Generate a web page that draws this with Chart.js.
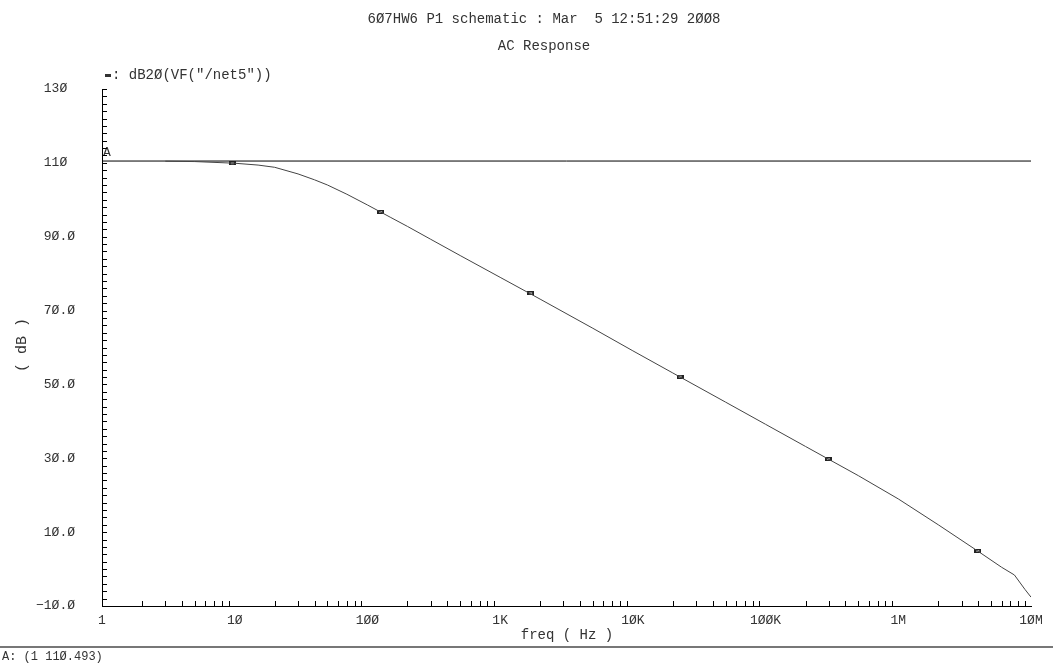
<!DOCTYPE html>
<html>
<head>
<meta charset="utf-8">
<title>AC Response</title>
<script src="https://cdn.jsdelivr.net/npm/chart.js@4/dist/chart.umd.min.js"></script>
<style>
  html, body { margin: 0; padding: 0; background: #fff; }
  canvas { display: block; }
</style>
</head>
<body>
<canvas id="ac" width="1053" height="664"></canvas>
<script>
// dB20(VF("/net5")) magnitude sweep
const freqHz = [3, 5, 10, 15, 20, 30, 40, 50, 70, 100, 150, 200, 300, 500, 1000, 2000, 5000,
  10000, 20000, 50000, 100000, 200000, 500000, 1e6, 2e6, 4e6, 6e6, 7.5e6, 9e6, 1e7];
const gainDb = [110.45, 110.35, 109.9, 109.4, 108.8, 107.0, 105.4, 104.0, 101.5, 98.6, 95.2,
  92.8, 89.3, 84.9, 79.0, 73.1, 65.2, 59.1, 53.1, 45.2, 39.2, 33.2, 25.3, 19.0, 12.0, 4.8,
  0.5, -1.6, -5.5, -7.6];

// trace symbols along the curve
const markerHz = [9.6, 126, 1698, 22700, 297000, 3970000];
const markerDb = [109.9, 96.7, 74.7, 52.1, 29.8, 4.9];

// cursor A
const cursorHz = 1;
const cursorDb = 110.493;

const xTicks = [1, 10, 100, 1e3, 1e4, 1e5, 1e6, 1e7];
const xTickLabels = ['1', '1Ø', '1ØØ', '1K', '1ØK', '1ØØK', '1M', '1ØM'];
const yTicks = [-10, 10, 30, 50, 70, 90, 110, 130];
const yTickLabels = ['\u22121Ø.Ø', '1Ø.Ø', '3Ø.Ø', '5Ø.Ø', '7Ø.Ø', '9Ø.Ø', '11Ø ', '13Ø '];

const FONT = '"Liberation Mono", "DejaVu Sans Mono", monospace';
const INK = '#333';

// small flat bar used as the point symbol
const sym = document.createElement('canvas');
sym.width = 7; sym.height = 4;
const sctx = sym.getContext('2d');
sctx.fillStyle = '#222';
sctx.fillRect(0, 0, 7, 4);
sctx.fillStyle = '#999';
sctx.fillRect(2, 1, 3, 2);

const decor = {
  id: 'decor',
  afterDraw(chart) {
    const ctx = chart.ctx;
    const xs = chart.scales.x, ys = chart.scales.y;
    const area = chart.chartArea;
    ctx.save();
    ctx.fillStyle = INK;
    ctx.textBaseline = 'middle';

    // heading lines
    ctx.textAlign = 'center';
    ctx.font = '14px ' + FONT;
    ctx.fillText('6Ø7HW6 P1 schematic : Mar  5 12:51:29 2ØØ8', 544, 19);
    ctx.fillText('AC Response', 544, 46);

    // trace legend
    ctx.textAlign = 'left';
    ctx.fillRect(105, 74, 6, 3);
    ctx.fillText(': dB2Ø(VF("/net5"))', 112, 75);

    // axis titles
    ctx.textAlign = 'center';
    ctx.fillText('freq ( Hz )', 567, 635);
    ctx.save();
    ctx.translate(22, 345);
    ctx.rotate(-Math.PI / 2);
    ctx.font = '15px ' + FONT;
    ctx.fillText('( dB )', 0, 0);
    ctx.restore();

    // cursor tag
    ctx.textAlign = 'left';
    ctx.font = '13px ' + FONT;
    ctx.fillText('A', xs.getPixelForValue(cursorHz) + 1, ys.getPixelForValue(cursorDb) - 8);

    // inward ticks: y every 2 dB, x at 2..9 of each decade
    ctx.strokeStyle = '#000';
    ctx.lineWidth = 1;
    ctx.beginPath();
    for (let v = ys.min; v <= ys.max; v += 2) {
      const py = Math.round(ys.getPixelForValue(v)) + 0.5;
      ctx.moveTo(area.left, py);
      ctx.lineTo(area.left + 5, py);
    }
    for (let d = xs.min; d < xs.max; d *= 10) {
      for (let k = 2; k <= 9; k++) {
        const px = Math.round(xs.getPixelForValue(d * k)) + 0.5;
        ctx.moveTo(px, area.bottom);
        ctx.lineTo(px, area.bottom - 5);
      }
    }
    ctx.stroke();

    // status line under the plot
    ctx.strokeStyle = '#777';
    ctx.lineWidth = 2;
    ctx.beginPath();
    ctx.moveTo(0, 647);
    ctx.lineTo(1053, 647);
    ctx.stroke();
    ctx.font = '12px ' + FONT;
    ctx.fillText('A: (1 11Ø.493)', 2, 657);
    ctx.restore();
  }
};

new Chart(document.getElementById('ac'), {
  type: 'line',
  data: {
    datasets: [
      {
        data: freqHz.map((f, i) => ({ x: f, y: gainDb[i] })),
        borderColor: '#444',
        borderWidth: 1,
        pointRadius: 0,
        tension: 0
      },
      {
        data: markerHz.map((f, i) => ({ x: f, y: markerDb[i] })),
        showLine: false,
        pointStyle: sym,
        pointRadius: 3
      },
      {
        data: [{ x: xTicks[0], y: cursorDb }, { x: xTicks[xTicks.length - 1], y: cursorDb }],
        borderColor: '#000',
        borderWidth: 1,
        pointRadius: 0
      }
    ]
  },
  options: {
    responsive: false,
    animation: false,
    devicePixelRatio: 1,
    layout: { padding: { top: 89, right: 22, left: 0, bottom: 0 } },
    plugins: { legend: { display: false }, tooltip: { enabled: false } },
    scales: {
      x: {
        type: 'logarithmic',
        min: 1,
        max: 1e7,
        afterBuildTicks: s => { s.ticks = xTicks.map(v => ({ value: v })); },
        afterFit: s => { s.height = 58; },
        ticks: {
          callback: (v, i) => xTickLabels[i],
          autoSkip: false,
          maxRotation: 0,
          padding: 7,
          color: INK,
          font: { family: FONT, size: 13 }
        },
        grid: { display: false, drawTicks: false },
        border: { display: true, color: '#000', width: 1 }
      },
      y: {
        type: 'linear',
        min: -10,
        max: 130,
        afterBuildTicks: s => { s.ticks = yTicks.map(v => ({ value: v })); },
        afterFit: s => { s.width = 102; },
        ticks: {
          callback: (v, i) => yTickLabels[i],
          padding: 27,
          color: INK,
          font: { family: FONT, size: 13 }
        },
        grid: { display: false, drawTicks: false },
        border: { display: true, color: '#000', width: 1 }
      }
    }
  },
  plugins: [decor]
});
</script>
</body>
</html>
